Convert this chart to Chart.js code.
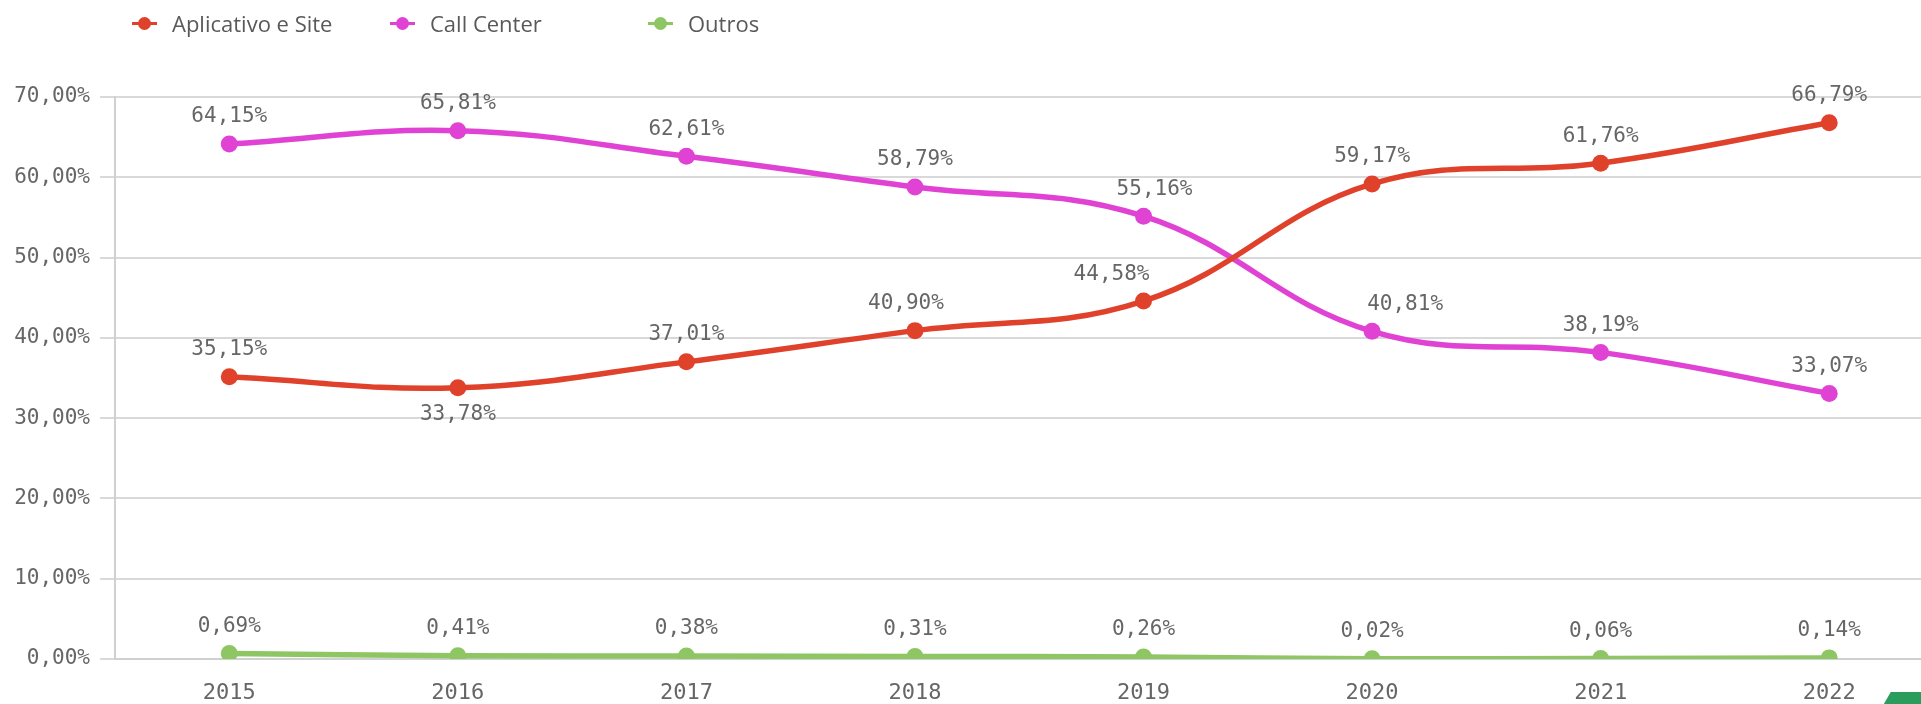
<!DOCTYPE html>
<html>
<head>
<meta charset="utf-8">
<script src="https://cdn.jsdelivr.net/npm/chart.js@4.4.1/dist/chart.umd.min.js"></script>
<style>
  html, body { margin: 0; padding: 0; background: #fff; overflow: hidden; }
  #wrap { position: relative; width: 1952px; height: 704px; }
  .legend { position: absolute; top: 11px; height: 26px; font-family: "Open Sans", sans-serif; font-size: 22px; color: #595959; line-height: 26px; white-space: nowrap; }
  .legend i { position: absolute; left: 0; top: 11px; width: 25px; height: 3px; }
  .legend i::after { content: ""; position: absolute; left: 6px; top: -5px; width: 13px; height: 13px; border-radius: 50%; background: inherit; }
  .legend span { position: absolute; left: 40px; top: -1px; }
  #corner { position: absolute; left: 1885px; top: 692px; width: 60px; height: 20px; background: #2a9d5c; transform: skewX(-30deg); }
</style>
</head>
<body>
<div id="wrap">
  <canvas id="linhas" width="1952" height="704"></canvas>
  <div class="legend" style="left:132px"><i style="background:#e0412b"></i><span>Aplicativo e Site</span></div>
  <div class="legend" style="left:390px"><i style="background:#e043d3"></i><span>Call Center</span></div>
  <div class="legend" style="left:648px"><i style="background:#8dc663"></i><span>Outros</span></div>
  <div id="corner"></div>
</div>
<script>
// Dados
const anos = ['2015', '2016', '2017', '2018', '2019', '2020', '2021', '2022'];
const aplicativoSite = [35.15, 33.78, 37.01, 40.90, 44.58, 59.17, 61.76, 66.79];
const callCenter = [64.15, 65.81, 62.61, 58.79, 55.16, 40.81, 38.19, 33.07];
const outros = [0.69, 0.41, 0.38, 0.31, 0.26, 0.02, 0.06, 0.14];
const ticksY = [0, 10, 20, 30, 40, 50, 60, 70];

const fonteMono = '"DejaVu Sans Mono", monospace';
const fmt = v => v.toFixed(2).replace('.', ',') + '%';

// deslocamento dos rótulos onde o Qlik evita colisão
const ajusteRotulo = {
    '0-1': { below: true },
    '0-3': { dx: -9 },
    '0-4': { dx: -32 },
    '1-4': { dx: 11 },
    '1-5': { dx: 33 }
};

const rotulos = {
    id: 'rotulos',
    afterDatasetsDraw(chart) {
        const c = chart.ctx;
        c.save();
        c.font = '21px ' + fonteMono;
        c.fillStyle = '#666666';
        c.textAlign = 'center';
        c.textBaseline = 'middle';
        chart.data.datasets.forEach((ds, i) => {
            chart.getDatasetMeta(i).data.forEach((pt, j) => {
                const a = ajusteRotulo[i + '-' + j] || {};
                const y = a.below ? pt.y + 27 : pt.y - 27;
                c.fillText(fmt(ds.data[j]), pt.x + (a.dx || 0), y);
            });
        });
        c.restore();
    }
};

function serie(label, data, cor) {
    return {
        label, data,
        borderColor: cor, backgroundColor: cor,
        borderWidth: 5.5, tension: 0.4,
        pointRadius: 8.5, pointHoverRadius: 8.5, pointBorderWidth: 0
    };
}

new Chart(document.getElementById('linhas'), {
    type: 'line',
    data: {
        labels: anos,
        datasets: [
            serie('Aplicativo e Site', aplicativoSite, '#e0412b'),
            serie('Call Center', callCenter, '#e043d3'),
            serie('Outros', outros, '#8dc663')
        ]
    },
    options: {
        responsive: false,
        animation: false,
        layout: { padding: { top: 97, right: 0 } },
        plugins: { legend: { display: false }, tooltip: { enabled: false } },
        scales: {
            x: {
                offset: true,
                grid: { display: false, drawTicks: false },
                border: { color: '#d0d0d0', width: 2 },
                ticks: { color: '#666666', font: { family: fonteMono, size: 22 }, padding: 21, maxRotation: 0 },
                afterFit(s) { s.height = 45; }
            },
            y: {
                min: 0, max: 70,
                afterBuildTicks(s) { s.ticks = ticksY.map(v => ({ value: v })); },
                grid: { color: '#d9d9d9', lineWidth: 2, tickLength: 15 },
                border: { color: '#d0d0d0', width: 2 },
                ticks: { color: '#666666', font: { family: fonteMono, size: 21 }, padding: 10, callback: v => fmt(v) },
                afterFit(s) { s.width = 115; }
            }
        }
    },
    plugins: [rotulos]
});
</script>
</body>
</html>
